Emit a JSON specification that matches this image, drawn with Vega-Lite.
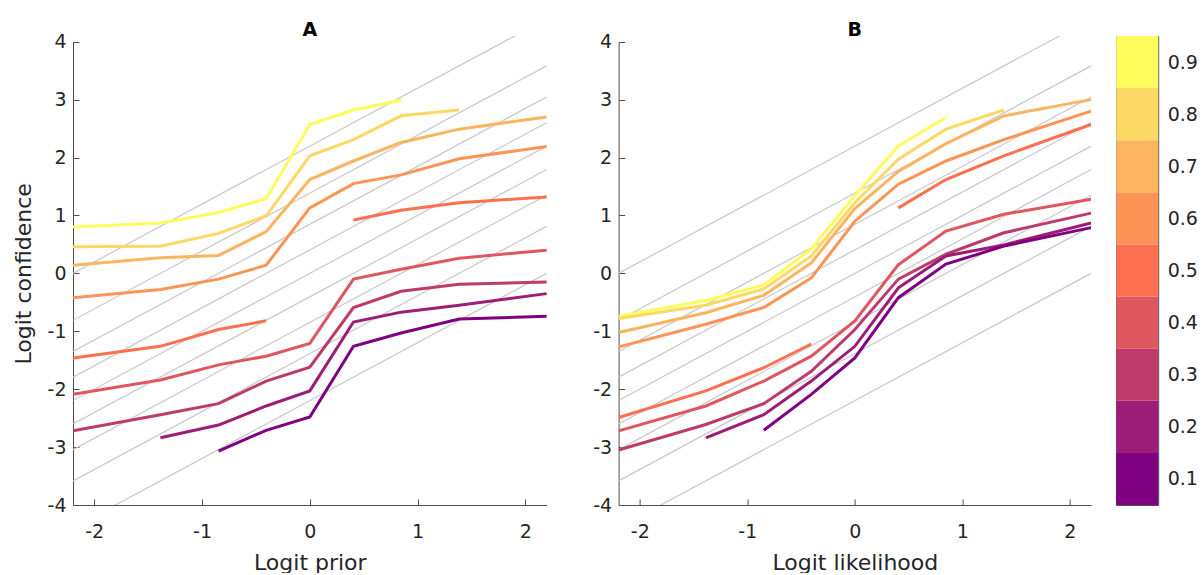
{
  "$schema": "https://vega.github.io/schema/vega-lite/v6.json",
  "background": "white",
  "padding": {"left": 12, "top": 20, "right": 5, "bottom": 0},
  "bounds": "flush",
  "spacing": 24.6,
  "config": {
    "font": "DejaVu Sans",
    "view": {"stroke": null},
    "axis": {
      "domainColor": "#4d4d4d", "tickColor": "#4d4d4d", "labelColor": "#262626", "titleColor": "#262626",
      "labelFontSize": 19, "titleFontSize": 22, "titleFontWeight": "normal", "grid": false,
      "tickSize": -6, "domainWidth": 1, "tickWidth": 1
    },
    "title": {"fontSize": 19, "fontWeight": "bold", "color": "#000000", "offset": -7, "frame": "group", "baseline": "alphabetic"}
  },
  "datasets": {
    "diag": [
      {"c": "0.1", "x": -2.197, "y": -4.394}, {"c": "0.1", "x": 2.197, "y": 0},
      {"c": "0.2", "x": -2.197, "y": -3.583}, {"c": "0.2", "x": 2.197, "y": 0.811},
      {"c": "0.3", "x": -2.197, "y": -3.044}, {"c": "0.3", "x": 2.197, "y": 1.35},
      {"c": "0.4", "x": -2.197, "y": -2.602}, {"c": "0.4", "x": 2.197, "y": 1.792},
      {"c": "0.5", "x": -2.197, "y": -2.197}, {"c": "0.5", "x": 2.197, "y": 2.197},
      {"c": "0.6", "x": -2.197, "y": -1.792}, {"c": "0.6", "x": 2.197, "y": 2.602},
      {"c": "0.7", "x": -2.197, "y": -1.35}, {"c": "0.7", "x": 2.197, "y": 3.044},
      {"c": "0.8", "x": -2.197, "y": -0.811}, {"c": "0.8", "x": 2.197, "y": 3.583},
      {"c": "0.9", "x": -2.197, "y": 0}, {"c": "0.9", "x": 2.197, "y": 4.394}
    ],
    "curves": [
      {"p": "A", "g": "0.9", "s": "0.9", "x": -2.197, "y": 0.80},
      {"p": "A", "g": "0.9", "s": "0.9", "x": -1.386, "y": 0.87},
      {"p": "A", "g": "0.9", "s": "0.9", "x": -0.847, "y": 1.05},
      {"p": "A", "g": "0.9", "s": "0.9", "x": -0.405, "y": 1.29},
      {"p": "A", "g": "0.9", "s": "0.9", "x": 0, "y": 2.57},
      {"p": "A", "g": "0.9", "s": "0.9", "x": 0.405, "y": 2.82},
      {"p": "A", "g": "0.9", "s": "0.9", "x": 0.847, "y": 2.99},

      {"p": "A", "g": "0.8", "s": "0.8", "x": -2.197, "y": 0.46},
      {"p": "A", "g": "0.8", "s": "0.8", "x": -1.386, "y": 0.47},
      {"p": "A", "g": "0.8", "s": "0.8", "x": -0.847, "y": 0.69},
      {"p": "A", "g": "0.8", "s": "0.8", "x": -0.405, "y": 0.99},
      {"p": "A", "g": "0.8", "s": "0.8", "x": 0, "y": 2.03},
      {"p": "A", "g": "0.8", "s": "0.8", "x": 0.405, "y": 2.31},
      {"p": "A", "g": "0.8", "s": "0.8", "x": 0.847, "y": 2.72},
      {"p": "A", "g": "0.8", "s": "0.8", "x": 1.386, "y": 2.82},

      {"p": "A", "g": "0.7", "s": "0.7", "x": -2.197, "y": 0.14},
      {"p": "A", "g": "0.7", "s": "0.7", "x": -1.386, "y": 0.27},
      {"p": "A", "g": "0.7", "s": "0.7", "x": -0.847, "y": 0.31},
      {"p": "A", "g": "0.7", "s": "0.7", "x": -0.405, "y": 0.72},
      {"p": "A", "g": "0.7", "s": "0.7", "x": 0, "y": 1.62},
      {"p": "A", "g": "0.7", "s": "0.7", "x": 0.405, "y": 1.94},
      {"p": "A", "g": "0.7", "s": "0.7", "x": 0.847, "y": 2.26},
      {"p": "A", "g": "0.7", "s": "0.7", "x": 1.386, "y": 2.49},
      {"p": "A", "g": "0.7", "s": "0.7", "x": 2.197, "y": 2.70},

      {"p": "A", "g": "0.6", "s": "0.6", "x": -2.197, "y": -0.42},
      {"p": "A", "g": "0.6", "s": "0.6", "x": -1.386, "y": -0.28},
      {"p": "A", "g": "0.6", "s": "0.6", "x": -0.847, "y": -0.10},
      {"p": "A", "g": "0.6", "s": "0.6", "x": -0.405, "y": 0.14},
      {"p": "A", "g": "0.6", "s": "0.6", "x": 0, "y": 1.13},
      {"p": "A", "g": "0.6", "s": "0.6", "x": 0.405, "y": 1.55},
      {"p": "A", "g": "0.6", "s": "0.6", "x": 0.847, "y": 1.70},
      {"p": "A", "g": "0.6", "s": "0.6", "x": 1.386, "y": 1.98},
      {"p": "A", "g": "0.6", "s": "0.6", "x": 2.197, "y": 2.19},

      {"p": "A", "g": "0.5", "s": "0.5a", "x": -2.197, "y": -1.46},
      {"p": "A", "g": "0.5", "s": "0.5a", "x": -1.386, "y": -1.26},
      {"p": "A", "g": "0.5", "s": "0.5a", "x": -0.847, "y": -0.97},
      {"p": "A", "g": "0.5", "s": "0.5a", "x": -0.405, "y": -0.82},
      {"p": "A", "g": "0.5", "s": "0.5b", "x": 0.405, "y": 0.92},
      {"p": "A", "g": "0.5", "s": "0.5b", "x": 0.847, "y": 1.09},
      {"p": "A", "g": "0.5", "s": "0.5b", "x": 1.386, "y": 1.22},
      {"p": "A", "g": "0.5", "s": "0.5b", "x": 2.197, "y": 1.32},

      {"p": "A", "g": "0.4", "s": "0.4", "x": -2.197, "y": -2.09},
      {"p": "A", "g": "0.4", "s": "0.4", "x": -1.386, "y": -1.84},
      {"p": "A", "g": "0.4", "s": "0.4", "x": -0.847, "y": -1.58},
      {"p": "A", "g": "0.4", "s": "0.4", "x": -0.405, "y": -1.43},
      {"p": "A", "g": "0.4", "s": "0.4", "x": 0, "y": -1.21},
      {"p": "A", "g": "0.4", "s": "0.4", "x": 0.405, "y": -0.10},
      {"p": "A", "g": "0.4", "s": "0.4", "x": 0.847, "y": 0.07},
      {"p": "A", "g": "0.4", "s": "0.4", "x": 1.386, "y": 0.26},
      {"p": "A", "g": "0.4", "s": "0.4", "x": 2.197, "y": 0.40},

      {"p": "A", "g": "0.3", "s": "0.3", "x": -2.197, "y": -2.72},
      {"p": "A", "g": "0.3", "s": "0.3", "x": -1.386, "y": -2.44},
      {"p": "A", "g": "0.3", "s": "0.3", "x": -0.847, "y": -2.25},
      {"p": "A", "g": "0.3", "s": "0.3", "x": -0.405, "y": -1.86},
      {"p": "A", "g": "0.3", "s": "0.3", "x": 0, "y": -1.62},
      {"p": "A", "g": "0.3", "s": "0.3", "x": 0.405, "y": -0.59},
      {"p": "A", "g": "0.3", "s": "0.3", "x": 0.847, "y": -0.31},
      {"p": "A", "g": "0.3", "s": "0.3", "x": 1.386, "y": -0.19},
      {"p": "A", "g": "0.3", "s": "0.3", "x": 2.197, "y": -0.15},

      {"p": "A", "g": "0.2", "s": "0.2", "x": -1.386, "y": -2.84},
      {"p": "A", "g": "0.2", "s": "0.2", "x": -0.847, "y": -2.62},
      {"p": "A", "g": "0.2", "s": "0.2", "x": -0.405, "y": -2.29},
      {"p": "A", "g": "0.2", "s": "0.2", "x": 0, "y": -2.03},
      {"p": "A", "g": "0.2", "s": "0.2", "x": 0.405, "y": -0.84},
      {"p": "A", "g": "0.2", "s": "0.2", "x": 0.847, "y": -0.67},
      {"p": "A", "g": "0.2", "s": "0.2", "x": 1.386, "y": -0.55},
      {"p": "A", "g": "0.2", "s": "0.2", "x": 2.197, "y": -0.35},

      {"p": "A", "g": "0.1", "s": "0.1", "x": -0.847, "y": -3.07},
      {"p": "A", "g": "0.1", "s": "0.1", "x": -0.405, "y": -2.71},
      {"p": "A", "g": "0.1", "s": "0.1", "x": 0, "y": -2.48},
      {"p": "A", "g": "0.1", "s": "0.1", "x": 0.405, "y": -1.26},
      {"p": "A", "g": "0.1", "s": "0.1", "x": 0.847, "y": -1.03},
      {"p": "A", "g": "0.1", "s": "0.1", "x": 1.386, "y": -0.79},
      {"p": "A", "g": "0.1", "s": "0.1", "x": 2.197, "y": -0.74},

      {"p": "B", "g": "0.9", "s": "0.9", "x": -2.197, "y": -0.74},
      {"p": "B", "g": "0.9", "s": "0.9", "x": -1.386, "y": -0.47},
      {"p": "B", "g": "0.9", "s": "0.9", "x": -0.847, "y": -0.20},
      {"p": "B", "g": "0.9", "s": "0.9", "x": -0.405, "y": 0.42},
      {"p": "B", "g": "0.9", "s": "0.9", "x": 0, "y": 1.34},
      {"p": "B", "g": "0.9", "s": "0.9", "x": 0.405, "y": 2.20},
      {"p": "B", "g": "0.9", "s": "0.9", "x": 0.847, "y": 2.69},

      {"p": "B", "g": "0.8", "s": "0.8", "x": -2.197, "y": -0.78},
      {"p": "B", "g": "0.8", "s": "0.8", "x": -1.386, "y": -0.55},
      {"p": "B", "g": "0.8", "s": "0.8", "x": -0.847, "y": -0.27},
      {"p": "B", "g": "0.8", "s": "0.8", "x": -0.405, "y": 0.30},
      {"p": "B", "g": "0.8", "s": "0.8", "x": 0, "y": 1.22},
      {"p": "B", "g": "0.8", "s": "0.8", "x": 0.405, "y": 1.97},
      {"p": "B", "g": "0.8", "s": "0.8", "x": 0.847, "y": 2.49},
      {"p": "B", "g": "0.8", "s": "0.8", "x": 1.386, "y": 2.82},

      {"p": "B", "g": "0.7", "s": "0.7", "x": -2.197, "y": -1.02},
      {"p": "B", "g": "0.7", "s": "0.7", "x": -1.386, "y": -0.68},
      {"p": "B", "g": "0.7", "s": "0.7", "x": -0.847, "y": -0.38},
      {"p": "B", "g": "0.7", "s": "0.7", "x": -0.405, "y": 0.18},
      {"p": "B", "g": "0.7", "s": "0.7", "x": 0, "y": 1.12},
      {"p": "B", "g": "0.7", "s": "0.7", "x": 0.405, "y": 1.76},
      {"p": "B", "g": "0.7", "s": "0.7", "x": 0.847, "y": 2.24},
      {"p": "B", "g": "0.7", "s": "0.7", "x": 1.386, "y": 2.72},
      {"p": "B", "g": "0.7", "s": "0.7", "x": 2.197, "y": 3.00},

      {"p": "B", "g": "0.6", "s": "0.6", "x": -2.197, "y": -1.27},
      {"p": "B", "g": "0.6", "s": "0.6", "x": -1.386, "y": -0.88},
      {"p": "B", "g": "0.6", "s": "0.6", "x": -0.847, "y": -0.59},
      {"p": "B", "g": "0.6", "s": "0.6", "x": -0.405, "y": -0.08},
      {"p": "B", "g": "0.6", "s": "0.6", "x": 0, "y": 0.90},
      {"p": "B", "g": "0.6", "s": "0.6", "x": 0.405, "y": 1.54},
      {"p": "B", "g": "0.6", "s": "0.6", "x": 0.847, "y": 1.94},
      {"p": "B", "g": "0.6", "s": "0.6", "x": 1.386, "y": 2.31},
      {"p": "B", "g": "0.6", "s": "0.6", "x": 2.197, "y": 2.80},

      {"p": "B", "g": "0.5", "s": "0.5a", "x": -2.197, "y": -2.49},
      {"p": "B", "g": "0.5", "s": "0.5a", "x": -1.386, "y": -2.03},
      {"p": "B", "g": "0.5", "s": "0.5a", "x": -0.847, "y": -1.63},
      {"p": "B", "g": "0.5", "s": "0.5a", "x": -0.405, "y": -1.22},
      {"p": "B", "g": "0.5", "s": "0.5b", "x": 0.405, "y": 1.13},
      {"p": "B", "g": "0.5", "s": "0.5b", "x": 0.847, "y": 1.62},
      {"p": "B", "g": "0.5", "s": "0.5b", "x": 1.386, "y": 2.03},
      {"p": "B", "g": "0.5", "s": "0.5b", "x": 2.197, "y": 2.57},

      {"p": "B", "g": "0.4", "s": "0.4", "x": -2.197, "y": -2.72},
      {"p": "B", "g": "0.4", "s": "0.4", "x": -1.386, "y": -2.29},
      {"p": "B", "g": "0.4", "s": "0.4", "x": -0.847, "y": -1.86},
      {"p": "B", "g": "0.4", "s": "0.4", "x": -0.405, "y": -1.43},
      {"p": "B", "g": "0.4", "s": "0.4", "x": 0, "y": -0.82},
      {"p": "B", "g": "0.4", "s": "0.4", "x": 0.405, "y": 0.15},
      {"p": "B", "g": "0.4", "s": "0.4", "x": 0.847, "y": 0.73},
      {"p": "B", "g": "0.4", "s": "0.4", "x": 1.386, "y": 1.02},
      {"p": "B", "g": "0.4", "s": "0.4", "x": 2.197, "y": 1.28},

      {"p": "B", "g": "0.3", "s": "0.3", "x": -2.197, "y": -3.05},
      {"p": "B", "g": "0.3", "s": "0.3", "x": -1.386, "y": -2.61},
      {"p": "B", "g": "0.3", "s": "0.3", "x": -0.847, "y": -2.25},
      {"p": "B", "g": "0.3", "s": "0.3", "x": -0.405, "y": -1.69},
      {"p": "B", "g": "0.3", "s": "0.3", "x": 0, "y": -0.97},
      {"p": "B", "g": "0.3", "s": "0.3", "x": 0.405, "y": -0.10},
      {"p": "B", "g": "0.3", "s": "0.3", "x": 0.847, "y": 0.33},
      {"p": "B", "g": "0.3", "s": "0.3", "x": 1.386, "y": 0.70},
      {"p": "B", "g": "0.3", "s": "0.3", "x": 2.197, "y": 1.04},

      {"p": "B", "g": "0.2", "s": "0.2", "x": -1.386, "y": -2.84},
      {"p": "B", "g": "0.2", "s": "0.2", "x": -0.847, "y": -2.44},
      {"p": "B", "g": "0.2", "s": "0.2", "x": -0.405, "y": -1.86},
      {"p": "B", "g": "0.2", "s": "0.2", "x": 0, "y": -1.26},
      {"p": "B", "g": "0.2", "s": "0.2", "x": 0.405, "y": -0.25},
      {"p": "B", "g": "0.2", "s": "0.2", "x": 0.847, "y": 0.30},
      {"p": "B", "g": "0.2", "s": "0.2", "x": 1.386, "y": 0.49},
      {"p": "B", "g": "0.2", "s": "0.2", "x": 2.197, "y": 0.87},

      {"p": "B", "g": "0.1", "s": "0.1", "x": -0.847, "y": -2.71},
      {"p": "B", "g": "0.1", "s": "0.1", "x": -0.405, "y": -2.09},
      {"p": "B", "g": "0.1", "s": "0.1", "x": 0, "y": -1.46},
      {"p": "B", "g": "0.1", "s": "0.1", "x": 0.405, "y": -0.42},
      {"p": "B", "g": "0.1", "s": "0.1", "x": 0.847, "y": 0.16},
      {"p": "B", "g": "0.1", "s": "0.1", "x": 1.386, "y": 0.47},
      {"p": "B", "g": "0.1", "s": "0.1", "x": 2.197, "y": 0.79}
    ],
    "cbar": [
      {"level": "0.1", "lo": 0.05, "hi": 0.15},
      {"level": "0.2", "lo": 0.15, "hi": 0.25},
      {"level": "0.3", "lo": 0.25, "hi": 0.35},
      {"level": "0.4", "lo": 0.35, "hi": 0.45},
      {"level": "0.5", "lo": 0.45, "hi": 0.55},
      {"level": "0.6", "lo": 0.55, "hi": 0.65},
      {"level": "0.7", "lo": 0.65, "hi": 0.75},
      {"level": "0.8", "lo": 0.75, "hi": 0.85},
      {"level": "0.9", "lo": 0.85, "hi": 0.95}
    ]
  },
  "resolve": {"scale": {"x": "independent", "y": "independent"}},
  "hconcat": [
    {
      "width": 521, "height": 469,
      "title": {"text": "A", "dx": -23.7},
      "layer": [
        {
          "data": {"name": "diag"},
          "mark": {"type": "line", "clip": true, "color": "#c8c8c8", "strokeWidth": 1.2},
          "encoding": {
            "x": {"field": "x", "type": "quantitative", "scale": {"domain": [-2.197, 2.197], "range": [0, 473.6], "nice": false, "zero": false},
                  "axis": {"values": [-2, -1, 0, 1, 2], "title": "Logit prior", "labelExpr": "'' + datum.value", "labelPadding": 23, "titlePadding": 11}},
            "y": {"field": "y", "type": "quantitative", "scale": {"domain": [-4, 4], "range": [469, 5.7], "nice": false, "zero": false},
                  "axis": {"values": [-4, -3, -2, -1, 0, 1, 2, 3, 4], "title": "Logit confidence", "labelExpr": "'' + datum.value", "labelPadding": 13, "titlePadding": 12}},
            "detail": {"field": "c"}
          }
        },
        {
          "data": {"name": "curves"},
          "transform": [{"filter": "datum.p === 'A'"}],
          "mark": {"type": "line", "strokeWidth": 3, "clip": true},
          "encoding": {
            "x": {"field": "x", "type": "quantitative"},
            "y": {"field": "y", "type": "quantitative"},
            "color": {"field": "g", "type": "nominal",
                      "scale": {"domain": ["0.1","0.2","0.3","0.4","0.5","0.6","0.7","0.8","0.9"],
                                "range": ["#7E0080","#9C1C77","#BC3B6B","#DE5760","#FE6F4F","#FD9455","#FCB45F","#FDD865","#FEFC5C"]},
                      "legend": null},
            "detail": {"field": "s"}
          }
        }
      ]
    },
    {
      "width": 472.5, "height": 469,
      "title": "B",
      "layer": [
        {
          "data": {"name": "diag"},
          "mark": {"type": "line", "clip": true, "color": "#c8c8c8", "strokeWidth": 1.2},
          "encoding": {
            "x": {"field": "x", "type": "quantitative", "scale": {"domain": [-2.197, 2.197], "nice": false, "zero": false},
                  "axis": {"values": [-2, -1, 0, 1, 2], "title": "Logit likelihood", "labelExpr": "'' + datum.value", "labelPadding": 23, "titlePadding": 11}},
            "y": {"field": "y", "type": "quantitative", "scale": {"domain": [-4, 4], "range": [469, 5.7], "nice": false, "zero": false},
                  "axis": {"values": [-4, -3, -2, -1, 0, 1, 2, 3, 4], "title": null, "labelExpr": "'' + datum.value", "labelPadding": 13}},
            "detail": {"field": "c"}
          }
        },
        {
          "data": {"name": "curves"},
          "transform": [{"filter": "datum.p === 'B'"}],
          "mark": {"type": "line", "strokeWidth": 3, "clip": true},
          "encoding": {
            "x": {"field": "x", "type": "quantitative"},
            "y": {"field": "y", "type": "quantitative"},
            "color": {"field": "g", "type": "nominal",
                      "scale": {"domain": ["0.1","0.2","0.3","0.4","0.5","0.6","0.7","0.8","0.9"],
                                "range": ["#7E0080","#9C1C77","#BC3B6B","#DE5760","#FE6F4F","#FD9455","#FCB45F","#FDD865","#FEFC5C"]},
                      "legend": null},
            "detail": {"field": "s"}
          }
        }
      ]
    },
    {
      "width": 42, "height": 469,
      "view": {"stroke": "#4d4d4d", "strokeWidth": 1},
      "data": {"name": "cbar"},
      "mark": {"type": "rect"},
      "encoding": {
        "y": {"field": "lo", "type": "quantitative", "scale": {"domain": [0.05, 0.95], "nice": false, "zero": false},
              "axis": {"orient": "right", "values": [0.1, 0.2, 0.3, 0.4, 0.5, 0.6, 0.7, 0.8, 0.9], "format": ".1f", "domain": false, "ticks": false, "title": null, "labelPadding": 9}},
        "y2": {"field": "hi"},
        "color": {"field": "level", "type": "nominal",
                  "scale": {"domain": ["0.1","0.2","0.3","0.4","0.5","0.6","0.7","0.8","0.9"],
                            "range": ["#7E0080","#9C1C77","#BC3B6B","#DE5760","#FE6F4F","#FD9455","#FCB45F","#FDD865","#FEFC5C"]},
                  "legend": null}
      }
    }
  ]
}
